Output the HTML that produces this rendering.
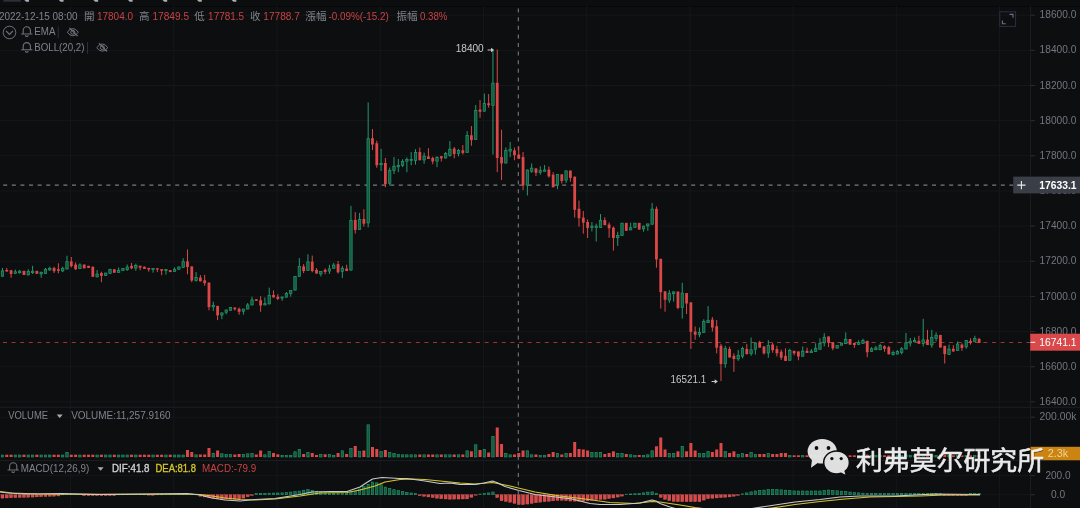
<!DOCTYPE html>
<html><head><meta charset="utf-8"><title>chart</title>
<style>html,body{margin:0;padding:0;background:#0d0e10;}body{width:1080px;height:508px;overflow:hidden;font-family:"Liberation Sans",sans-serif;}svg{display:block;filter:blur(0.6px)}</style>
</head><body>
<svg width="1080" height="508" viewBox="0 0 1080 508">
<rect width="1080" height="508" fill="#0d0e10"/>
<rect width="1080" height="6.3" fill="#0c0d0f"/>
<rect y="6.1" width="1080" height="0.9" fill="#060708"/>
<rect x="3.5" y="0" width="17.3" height="1.7" fill="#2e3036"/>
<path d="M24.3 0h4.7v1.8h-2.9z" fill="#a9adb4"/>
<path d="M58.85 0h4.7v1.8h-2.9z" fill="#a9adb4"/>
<path d="M93.4 0h4.7v1.8h-2.9z" fill="#a9adb4"/>
<path d="M127.95 0h4.7v1.8h-2.9z" fill="#a9adb4"/>
<path d="M162.5 0h4.7v1.8h-2.9z" fill="#a9adb4"/>
<path d="M197.05 0h4.7v1.8h-2.9z" fill="#a9adb4"/>
<path d="M231.6 0h4.7v1.8h-2.9z" fill="#a9adb4"/>
<path d="M70.6 6V508M173.82 6V508M277.04 6V508M380.26 6V508M483.48 6V508M586.7 6V508M689.92 6V508M793.14 6V508M896.36 6V508M999.58 6V508M0 15.2H1035M0 50.35H1035M0 85.5H1035M0 120.65H1035M0 155.8H1035M0 190.95H1035M0 226.1H1035M0 261.25H1035M0 296.4H1035M0 331.55H1035M0 366.7H1035M0 401.85H1035M0 417.2H1035M0 475.6H1035M0 494.7H1035" stroke="#16171b" stroke-width="1" fill="none"/>
<path d="M0 407.3H1080M0 460.6H1080M1030.6 6V508" stroke="#1d1e23" stroke-width="1" fill="none"/>
<g fill="#155a40" stroke="#229a6c" stroke-width="0.6"><rect x="1.26" y="455" width="2.4" height="2"/><rect x="14.17" y="455" width="2.4" height="2"/><rect x="18.47" y="455" width="2.4" height="2"/><rect x="27.08" y="455" width="2.4" height="2"/><rect x="31.38" y="455" width="2.4" height="2"/><rect x="39.98" y="455" width="2.4" height="2"/><rect x="44.29" y="455" width="2.4" height="2"/><rect x="48.59" y="455" width="2.4" height="2"/><rect x="61.49" y="455" width="2.4" height="2"/><rect x="65.8" y="452.3" width="2.4" height="4.7"/><rect x="78.7" y="455" width="2.4" height="2"/><rect x="95.91" y="455" width="2.4" height="2"/><rect x="104.52" y="455" width="2.4" height="2"/><rect x="108.82" y="455" width="2.4" height="2"/><rect x="117.43" y="455" width="2.4" height="2"/><rect x="121.73" y="455" width="2.4" height="2"/><rect x="126.03" y="455" width="2.4" height="2"/><rect x="134.64" y="455" width="2.4" height="2"/><rect x="151.85" y="455" width="2.4" height="2"/><rect x="164.76" y="455" width="2.4" height="2"/><rect x="173.36" y="455" width="2.4" height="2"/><rect x="177.66" y="455" width="2.4" height="2"/><rect x="181.97" y="455" width="2.4" height="2"/><rect x="194.87" y="454.8" width="2.4" height="2.2"/><rect x="212.08" y="453.3" width="2.4" height="3.7"/><rect x="220.69" y="453.8" width="2.4" height="3.2"/><rect x="224.99" y="454.3" width="2.4" height="2.7"/><rect x="229.29" y="454.3" width="2.4" height="2.7"/><rect x="242.2" y="454.3" width="2.4" height="2.7"/><rect x="246.5" y="453.8" width="2.4" height="3.2"/><rect x="250.81" y="453.3" width="2.4" height="3.7"/><rect x="263.71" y="454.8" width="2.4" height="2.2"/><rect x="268.01" y="451.6" width="2.4" height="5.4"/><rect x="280.92" y="455.3" width="2.4" height="1.7"/><rect x="285.23" y="455.3" width="2.4" height="1.7"/><rect x="289.53" y="455.3" width="2.4" height="1.7"/><rect x="293.83" y="451.8" width="2.4" height="5.2"/><rect x="298.13" y="449.3" width="2.4" height="7.7"/><rect x="306.74" y="452.3" width="2.4" height="4.7"/><rect x="319.64" y="454.3" width="2.4" height="2.7"/><rect x="328.25" y="454.3" width="2.4" height="2.7"/><rect x="332.55" y="455.3" width="2.4" height="1.7"/><rect x="341.16" y="450.8" width="2.4" height="6.2"/><rect x="349.76" y="448.3" width="2.4" height="8.7"/><rect x="358.37" y="451.6" width="2.4" height="5.4"/><rect x="366.97" y="424.8" width="2.4" height="32.2"/><rect x="379.88" y="451.6" width="2.4" height="5.4"/><rect x="388.49" y="452.3" width="2.4" height="4.7"/><rect x="392.79" y="453.3" width="2.4" height="3.7"/><rect x="397.09" y="454.3" width="2.4" height="2.7"/><rect x="401.39" y="454.8" width="2.4" height="2.2"/><rect x="405.69" y="454.8" width="2.4" height="2.2"/><rect x="410" y="454.8" width="2.4" height="2.2"/><rect x="414.3" y="454.8" width="2.4" height="2.2"/><rect x="422.91" y="454.8" width="2.4" height="2.2"/><rect x="435.81" y="454.8" width="2.4" height="2.2"/><rect x="444.42" y="454.8" width="2.4" height="2.2"/><rect x="448.72" y="454.8" width="2.4" height="2.2"/><rect x="457.32" y="454.8" width="2.4" height="2.2"/><rect x="465.93" y="450.8" width="2.4" height="6.2"/><rect x="474.54" y="444.8" width="2.4" height="12.2"/><rect x="483.14" y="449.3" width="2.4" height="7.7"/><rect x="491.75" y="436.3" width="2.4" height="20.7"/><rect x="504.65" y="453.3" width="2.4" height="3.7"/><rect x="508.96" y="454.8" width="2.4" height="2.2"/><rect x="526.16" y="450.8" width="2.4" height="6.2"/><rect x="530.47" y="454.8" width="2.4" height="2.2"/><rect x="539.07" y="455.3" width="2.4" height="1.7"/><rect x="543.38" y="455.3" width="2.4" height="1.7"/><rect x="556.28" y="453.3" width="2.4" height="3.7"/><rect x="564.89" y="453.3" width="2.4" height="3.7"/><rect x="590.7" y="452.3" width="2.4" height="4.7"/><rect x="595" y="452.3" width="2.4" height="4.7"/><rect x="599.31" y="452.3" width="2.4" height="4.7"/><rect x="616.52" y="453.3" width="2.4" height="3.7"/><rect x="620.82" y="453.3" width="2.4" height="3.7"/><rect x="629.43" y="454.8" width="2.4" height="2.2"/><rect x="633.73" y="455.3" width="2.4" height="1.7"/><rect x="642.33" y="455.3" width="2.4" height="1.7"/><rect x="646.63" y="454.8" width="2.4" height="2.2"/><rect x="650.94" y="450.8" width="2.4" height="6.2"/><rect x="668.15" y="453.3" width="2.4" height="3.7"/><rect x="672.45" y="453.3" width="2.4" height="3.7"/><rect x="681.06" y="446.3" width="2.4" height="10.7"/><rect x="698.26" y="453.3" width="2.4" height="3.7"/><rect x="702.57" y="453.3" width="2.4" height="3.7"/><rect x="706.87" y="451.6" width="2.4" height="5.4"/><rect x="724.08" y="451.6" width="2.4" height="5.4"/><rect x="736.99" y="454.3" width="2.4" height="2.7"/><rect x="741.29" y="453.3" width="2.4" height="3.7"/><rect x="749.89" y="452.3" width="2.4" height="4.7"/><rect x="754.2" y="454.3" width="2.4" height="2.7"/><rect x="767.11" y="453.3" width="2.4" height="3.7"/><rect x="788.62" y="455.6" width="2.4" height="1.4"/><rect x="801.52" y="455.6" width="2.4" height="1.4"/><rect x="810.13" y="455.6" width="2.4" height="1.4"/><rect x="814.43" y="455.6" width="2.4" height="1.4"/><rect x="818.74" y="455.6" width="2.4" height="1.4"/><rect x="823.04" y="455.6" width="2.4" height="1.4"/><rect x="835.95" y="455.6" width="2.4" height="1.4"/><rect x="840.25" y="455.6" width="2.4" height="1.4"/><rect x="844.55" y="454.9" width="2.4" height="2.1"/><rect x="857.46" y="455.6" width="2.4" height="1.4"/><rect x="861.76" y="455.6" width="2.4" height="1.4"/><rect x="870.37" y="455.6" width="2.4" height="1.4"/><rect x="874.67" y="455.6" width="2.4" height="1.4"/><rect x="878.97" y="455.6" width="2.4" height="1.4"/><rect x="891.88" y="455.6" width="2.4" height="1.4"/><rect x="896.18" y="455.6" width="2.4" height="1.4"/><rect x="900.48" y="455.6" width="2.4" height="1.4"/><rect x="904.79" y="454.9" width="2.4" height="2.1"/><rect x="909.09" y="455.6" width="2.4" height="1.4"/><rect x="913.39" y="455.6" width="2.4" height="1.4"/><rect x="922" y="454.9" width="2.4" height="2.1"/><rect x="930.6" y="454.9" width="2.4" height="2.1"/><rect x="934.9" y="455.6" width="2.4" height="1.4"/><rect x="947.81" y="455.6" width="2.4" height="1.4"/><rect x="956.42" y="455.6" width="2.4" height="1.4"/><rect x="965.02" y="455.6" width="2.4" height="1.4"/><rect x="973.62" y="455.6" width="2.4" height="1.4"/></g>
<g fill="#dc4848"><rect x="5.26" y="454.7" width="3" height="2.3"/><rect x="9.57" y="454.7" width="3" height="2.3"/><rect x="22.47" y="454.7" width="3" height="2.3"/><rect x="35.38" y="454.7" width="3" height="2.3"/><rect x="52.59" y="454.7" width="3" height="2.3"/><rect x="56.89" y="454.7" width="3" height="2.3"/><rect x="69.8" y="454.7" width="3" height="2.3"/><rect x="74.1" y="454.7" width="3" height="2.3"/><rect x="82.71" y="454.7" width="3" height="2.3"/><rect x="87.01" y="454.7" width="3" height="2.3"/><rect x="91.31" y="454.7" width="3" height="2.3"/><rect x="99.92" y="454.7" width="3" height="2.3"/><rect x="112.83" y="454.7" width="3" height="2.3"/><rect x="130.04" y="454.7" width="3" height="2.3"/><rect x="138.64" y="454.7" width="3" height="2.3"/><rect x="142.94" y="454.7" width="3" height="2.3"/><rect x="147.25" y="454.7" width="3" height="2.3"/><rect x="155.85" y="454.7" width="3" height="2.3"/><rect x="160.15" y="454.7" width="3" height="2.3"/><rect x="168.76" y="454.7" width="3" height="2.3"/><rect x="185.97" y="450" width="3" height="7"/><rect x="190.27" y="452" width="3" height="5"/><rect x="198.88" y="454.5" width="3" height="2.5"/><rect x="203.18" y="454.5" width="3" height="2.5"/><rect x="207.48" y="448" width="3" height="9"/><rect x="216.09" y="450.5" width="3" height="6.5"/><rect x="233.3" y="454.5" width="3" height="2.5"/><rect x="237.6" y="454" width="3" height="3"/><rect x="254.81" y="454.5" width="3" height="2.5"/><rect x="259.11" y="450.5" width="3" height="6.5"/><rect x="272.02" y="453" width="3" height="4"/><rect x="276.32" y="454.3" width="3" height="2.7"/><rect x="302.13" y="454" width="3" height="3"/><rect x="310.74" y="453" width="3" height="4"/><rect x="315.04" y="455" width="3" height="2"/><rect x="323.65" y="454.3" width="3" height="2.7"/><rect x="336.56" y="453" width="3" height="4"/><rect x="345.16" y="454" width="3" height="3"/><rect x="353.76" y="446" width="3" height="11"/><rect x="362.37" y="450.5" width="3" height="6.5"/><rect x="370.98" y="447" width="3" height="10"/><rect x="375.28" y="449" width="3" height="8"/><rect x="383.88" y="450" width="3" height="7"/><rect x="418.3" y="454.5" width="3" height="2.5"/><rect x="426.91" y="454.5" width="3" height="2.5"/><rect x="431.21" y="454.5" width="3" height="2.5"/><rect x="439.81" y="454.5" width="3" height="2.5"/><rect x="452.72" y="454.5" width="3" height="2.5"/><rect x="461.33" y="454.5" width="3" height="2.5"/><rect x="469.93" y="451.3" width="3" height="5.7"/><rect x="478.54" y="450" width="3" height="7"/><rect x="487.14" y="452.5" width="3" height="4.5"/><rect x="495.75" y="427.5" width="3" height="29.5"/><rect x="500.05" y="444" width="3" height="13"/><rect x="512.96" y="454.5" width="3" height="2.5"/><rect x="517.26" y="453" width="3" height="4"/><rect x="521.56" y="450.5" width="3" height="6.5"/><rect x="534.47" y="454.5" width="3" height="2.5"/><rect x="547.38" y="454" width="3" height="3"/><rect x="551.68" y="452" width="3" height="5"/><rect x="560.29" y="454.5" width="3" height="2.5"/><rect x="568.89" y="453" width="3" height="4"/><rect x="573.19" y="442" width="3" height="15"/><rect x="577.5" y="449" width="3" height="8"/><rect x="581.8" y="449.5" width="3" height="7.5"/><rect x="586.1" y="450.5" width="3" height="6.5"/><rect x="603.31" y="454" width="3" height="3"/><rect x="607.61" y="453" width="3" height="4"/><rect x="611.92" y="451.3" width="3" height="5.7"/><rect x="624.82" y="454" width="3" height="3"/><rect x="637.73" y="455" width="3" height="2"/><rect x="654.94" y="446.3" width="3" height="10.7"/><rect x="659.24" y="437.5" width="3" height="19.5"/><rect x="663.55" y="449.5" width="3" height="7.5"/><rect x="676.45" y="451.3" width="3" height="5.7"/><rect x="685.06" y="451.3" width="3" height="5.7"/><rect x="689.36" y="443" width="3" height="14"/><rect x="693.66" y="450.5" width="3" height="6.5"/><rect x="710.87" y="452" width="3" height="5"/><rect x="715.18" y="449.5" width="3" height="7.5"/><rect x="719.48" y="443" width="3" height="14"/><rect x="728.08" y="453" width="3" height="4"/><rect x="732.39" y="451.3" width="3" height="5.7"/><rect x="745.29" y="454" width="3" height="3"/><rect x="758.2" y="454" width="3" height="3"/><rect x="762.5" y="454" width="3" height="3"/><rect x="771.11" y="454" width="3" height="3"/><rect x="775.41" y="454" width="3" height="3"/><rect x="779.71" y="453" width="3" height="4"/><rect x="784.02" y="453" width="3" height="4"/><rect x="792.62" y="455.3" width="3" height="1.7"/><rect x="796.92" y="455.3" width="3" height="1.7"/><rect x="805.53" y="455.3" width="3" height="1.7"/><rect x="827.04" y="455.3" width="3" height="1.7"/><rect x="831.34" y="455.3" width="3" height="1.7"/><rect x="848.55" y="455.3" width="3" height="1.7"/><rect x="852.86" y="455.3" width="3" height="1.7"/><rect x="865.76" y="454.6" width="3" height="2.4"/><rect x="882.97" y="455.3" width="3" height="1.7"/><rect x="887.28" y="455.3" width="3" height="1.7"/><rect x="917.39" y="455.3" width="3" height="1.7"/><rect x="926" y="454.6" width="3" height="2.4"/><rect x="938.91" y="454.6" width="3" height="2.4"/><rect x="943.21" y="454.6" width="3" height="2.4"/><rect x="951.81" y="455.3" width="3" height="1.7"/><rect x="960.42" y="455.3" width="3" height="1.7"/><rect x="969.02" y="455.3" width="3" height="1.7"/><rect x="977.63" y="455.3" width="3" height="1.7"/></g>
<g fill="#155a40" stroke="#229a6c" stroke-width="0.6"><rect x="61.49" y="494.4" width="2.4" height="0.4"/><rect x="65.8" y="494.2" width="2.4" height="0.5"/><rect x="70.1" y="494.2" width="2.4" height="0.5"/><rect x="74.4" y="494.2" width="2.4" height="0.5"/><rect x="78.7" y="494.2" width="2.4" height="0.5"/><rect x="117.43" y="494.4" width="2.4" height="0.4"/><rect x="121.73" y="494.37" width="2.4" height="0.4"/><rect x="126.03" y="494.33" width="2.4" height="0.4"/><rect x="130.34" y="494.28" width="2.4" height="0.42"/><rect x="134.64" y="494.24" width="2.4" height="0.46"/><rect x="138.94" y="494.22" width="2.4" height="0.48"/><rect x="143.24" y="494.4" width="2.4" height="0.4"/><rect x="156.15" y="494.4" width="2.4" height="0.4"/><rect x="160.45" y="494.36" width="2.4" height="0.4"/><rect x="164.76" y="494.27" width="2.4" height="0.43"/><rect x="169.06" y="494.17" width="2.4" height="0.53"/><rect x="173.36" y="494.08" width="2.4" height="0.62"/><rect x="177.66" y="493.98" width="2.4" height="0.72"/><rect x="181.97" y="493.89" width="2.4" height="0.81"/><rect x="186.27" y="493.85" width="2.4" height="0.85"/><rect x="190.57" y="494.28" width="2.4" height="0.42"/><rect x="194.87" y="494.4" width="2.4" height="0.4"/><rect x="255.11" y="493.49" width="2.4" height="1.21"/><rect x="259.41" y="493.39" width="2.4" height="1.31"/><rect x="263.71" y="493.28" width="2.4" height="1.42"/><rect x="268.01" y="493.18" width="2.4" height="1.52"/><rect x="272.32" y="493.08" width="2.4" height="1.62"/><rect x="276.62" y="492.97" width="2.4" height="1.73"/><rect x="280.92" y="492.87" width="2.4" height="1.83"/><rect x="285.23" y="492.63" width="2.4" height="2.07"/><rect x="289.53" y="492.11" width="2.4" height="2.59"/><rect x="293.83" y="491.6" width="2.4" height="3.1"/><rect x="298.13" y="491.08" width="2.4" height="3.62"/><rect x="302.44" y="490.22" width="2.4" height="4.48"/><rect x="306.74" y="489.67" width="2.4" height="5.03"/><rect x="311.04" y="490.45" width="2.4" height="4.25"/><rect x="315.34" y="491.24" width="2.4" height="3.46"/><rect x="319.64" y="492.03" width="2.4" height="2.67"/><rect x="323.95" y="492.84" width="2.4" height="1.86"/><rect x="328.25" y="493.03" width="2.4" height="1.67"/><rect x="332.55" y="493.07" width="2.4" height="1.63"/><rect x="336.86" y="493.11" width="2.4" height="1.59"/><rect x="341.16" y="493.15" width="2.4" height="1.55"/><rect x="345.46" y="493.19" width="2.4" height="1.51"/><rect x="349.76" y="492.39" width="2.4" height="2.31"/><rect x="354.06" y="491.2" width="2.4" height="3.5"/><rect x="358.37" y="489.02" width="2.4" height="5.68"/><rect x="362.67" y="486.63" width="2.4" height="8.07"/><rect x="366.97" y="484.31" width="2.4" height="10.39"/><rect x="371.28" y="482.01" width="2.4" height="12.69"/><rect x="375.58" y="482.78" width="2.4" height="11.92"/><rect x="379.88" y="484.76" width="2.4" height="9.94"/><rect x="384.18" y="487.11" width="2.4" height="7.59"/><rect x="388.49" y="488.41" width="2.4" height="6.29"/><rect x="392.79" y="489.7" width="2.4" height="5"/><rect x="397.09" y="490.69" width="2.4" height="4.01"/><rect x="401.39" y="491.58" width="2.4" height="3.12"/><rect x="405.69" y="492.48" width="2.4" height="2.22"/><rect x="410" y="492.97" width="2.4" height="1.73"/><rect x="414.3" y="493.44" width="2.4" height="1.26"/><rect x="478.84" y="494.02" width="2.4" height="0.68"/><rect x="483.14" y="493.65" width="2.4" height="1.05"/><rect x="487.44" y="492.93" width="2.4" height="1.77"/><rect x="491.75" y="492.01" width="2.4" height="2.69"/><rect x="625.12" y="494.18" width="2.4" height="0.52"/><rect x="629.43" y="493.97" width="2.4" height="0.73"/><rect x="633.73" y="493.75" width="2.4" height="0.95"/><rect x="638.03" y="493.54" width="2.4" height="1.16"/><rect x="642.33" y="492.86" width="2.4" height="1.84"/><rect x="646.63" y="492.08" width="2.4" height="2.62"/><rect x="650.94" y="491.88" width="2.4" height="2.82"/><rect x="655.24" y="493.31" width="2.4" height="1.39"/><rect x="741.29" y="493.86" width="2.4" height="0.84"/><rect x="745.59" y="492.88" width="2.4" height="1.82"/><rect x="749.89" y="491.89" width="2.4" height="2.81"/><rect x="754.2" y="490.96" width="2.4" height="3.74"/><rect x="758.5" y="490.53" width="2.4" height="4.17"/><rect x="762.8" y="490.1" width="2.4" height="4.6"/><rect x="767.11" y="489.67" width="2.4" height="5.03"/><rect x="771.41" y="489.5" width="2.4" height="5.2"/><rect x="775.71" y="489.5" width="2.4" height="5.2"/><rect x="780.01" y="489.85" width="2.4" height="4.85"/><rect x="784.32" y="490.21" width="2.4" height="4.49"/><rect x="788.62" y="490.57" width="2.4" height="4.13"/><rect x="792.92" y="490.93" width="2.4" height="3.77"/><rect x="797.22" y="491" width="2.4" height="3.7"/><rect x="801.52" y="491" width="2.4" height="3.7"/><rect x="805.83" y="491" width="2.4" height="3.7"/><rect x="810.13" y="491" width="2.4" height="3.7"/><rect x="814.43" y="491" width="2.4" height="3.7"/><rect x="818.74" y="491" width="2.4" height="3.7"/><rect x="823.04" y="490.47" width="2.4" height="4.23"/><rect x="827.34" y="490.05" width="2.4" height="4.65"/><rect x="831.64" y="490.43" width="2.4" height="4.27"/><rect x="835.95" y="490.81" width="2.4" height="3.89"/><rect x="840.25" y="491.19" width="2.4" height="3.51"/><rect x="844.55" y="491.57" width="2.4" height="3.12"/><rect x="848.85" y="492.01" width="2.4" height="2.69"/><rect x="853.16" y="492.44" width="2.4" height="2.26"/><rect x="857.46" y="492.87" width="2.4" height="1.83"/><rect x="861.76" y="493.15" width="2.4" height="1.55"/><rect x="866.06" y="493.36" width="2.4" height="1.34"/><rect x="870.37" y="493.5" width="2.4" height="1.2"/><rect x="874.67" y="493.5" width="2.4" height="1.2"/><rect x="878.97" y="493.5" width="2.4" height="1.2"/><rect x="883.27" y="493.5" width="2.4" height="1.2"/><rect x="887.58" y="493.5" width="2.4" height="1.2"/><rect x="891.88" y="493.5" width="2.4" height="1.2"/><rect x="896.18" y="493.5" width="2.4" height="1.2"/><rect x="900.48" y="493.5" width="2.4" height="1.2"/><rect x="904.79" y="493.5" width="2.4" height="1.2"/><rect x="909.09" y="493.5" width="2.4" height="1.2"/><rect x="913.39" y="493.5" width="2.4" height="1.2"/><rect x="917.69" y="493.5" width="2.4" height="1.2"/><rect x="922" y="493.5" width="2.4" height="1.2"/><rect x="926.3" y="493.5" width="2.4" height="1.2"/><rect x="930.6" y="493.5" width="2.4" height="1.2"/><rect x="934.9" y="493.5" width="2.4" height="1.2"/><rect x="939.21" y="493.73" width="2.4" height="0.97"/><rect x="969.32" y="493.67" width="2.4" height="1.03"/><rect x="973.62" y="493.59" width="2.4" height="1.11"/><rect x="977.93" y="493.52" width="2.4" height="1.18"/></g>
<g fill="#dc4848" stroke="#f07070" stroke-width="0.3"><rect x="0.96" y="494.7" width="3" height="3.42"/><rect x="5.26" y="494.7" width="3" height="3.27"/><rect x="9.57" y="494.7" width="3" height="3.13"/><rect x="13.87" y="494.7" width="3" height="2.99"/><rect x="18.17" y="494.7" width="3" height="2.84"/><rect x="22.47" y="494.7" width="3" height="2.7"/><rect x="26.78" y="494.7" width="3" height="2.56"/><rect x="31.08" y="494.7" width="3" height="2.39"/><rect x="35.38" y="494.7" width="3" height="2.2"/><rect x="39.68" y="494.7" width="3" height="2.02"/><rect x="43.99" y="494.7" width="3" height="1.83"/><rect x="48.29" y="494.7" width="3" height="1.64"/><rect x="52.59" y="494.7" width="3" height="1.46"/><rect x="56.89" y="494.7" width="3" height="1.27"/><rect x="82.71" y="494.7" width="3" height="1"/><rect x="87.01" y="494.7" width="3" height="1"/><rect x="91.31" y="494.7" width="3" height="1"/><rect x="95.61" y="494.7" width="3" height="1"/><rect x="99.92" y="494.7" width="3" height="1"/><rect x="104.22" y="494.7" width="3" height="1"/><rect x="108.52" y="494.7" width="3" height="1"/><rect x="112.83" y="494.7" width="3" height="1"/><rect x="147.25" y="494.7" width="3" height="0.42"/><rect x="151.55" y="494.7" width="3" height="0.6"/><rect x="198.88" y="494.7" width="3" height="1.56"/><rect x="203.18" y="494.7" width="3" height="2.28"/><rect x="207.48" y="494.7" width="3" height="3"/><rect x="211.78" y="494.7" width="3" height="3.63"/><rect x="216.09" y="494.7" width="3" height="4.06"/><rect x="220.39" y="494.7" width="3" height="4.49"/><rect x="224.69" y="494.7" width="3" height="4.5"/><rect x="228.99" y="494.7" width="3" height="4.5"/><rect x="233.3" y="494.7" width="3" height="4.5"/><rect x="237.6" y="494.7" width="3" height="4.5"/><rect x="241.9" y="494.7" width="3" height="3.44"/><rect x="246.2" y="494.7" width="3" height="2.09"/><rect x="250.51" y="494.7" width="3" height="0.8"/><rect x="418.3" y="494.7" width="3" height="0.99"/><rect x="422.61" y="494.7" width="3" height="1.63"/><rect x="426.91" y="494.7" width="3" height="2.26"/><rect x="431.21" y="494.7" width="3" height="2.91"/><rect x="435.51" y="494.7" width="3" height="3.55"/><rect x="439.81" y="494.7" width="3" height="4.07"/><rect x="444.12" y="494.7" width="3" height="4.28"/><rect x="448.42" y="494.7" width="3" height="4.5"/><rect x="452.72" y="494.7" width="3" height="4.43"/><rect x="457.02" y="494.7" width="3" height="4.36"/><rect x="461.33" y="494.7" width="3" height="4.29"/><rect x="465.63" y="494.7" width="3" height="4.21"/><rect x="469.93" y="494.7" width="3" height="2.63"/><rect x="474.24" y="494.7" width="3" height="0.56"/><rect x="495.75" y="494.7" width="3" height="2.93"/><rect x="500.05" y="494.7" width="3" height="6.09"/><rect x="504.35" y="494.7" width="3" height="6.81"/><rect x="508.66" y="494.7" width="3" height="7.54"/><rect x="512.96" y="494.7" width="3" height="8.74"/><rect x="517.26" y="494.7" width="3" height="9.93"/><rect x="521.56" y="494.7" width="3" height="9.99"/><rect x="525.87" y="494.7" width="3" height="9.38"/><rect x="530.17" y="494.7" width="3" height="8.75"/><rect x="534.47" y="494.7" width="3" height="8.1"/><rect x="538.77" y="494.7" width="3" height="7.47"/><rect x="543.08" y="494.7" width="3" height="7.04"/><rect x="547.38" y="494.7" width="3" height="6.61"/><rect x="551.68" y="494.7" width="3" height="6.18"/><rect x="555.98" y="494.7" width="3" height="5.75"/><rect x="560.29" y="494.7" width="3" height="5.65"/><rect x="564.59" y="494.7" width="3" height="6.01"/><rect x="568.89" y="494.7" width="3" height="6.37"/><rect x="573.19" y="494.7" width="3" height="6.5"/><rect x="577.5" y="494.7" width="3" height="6.5"/><rect x="581.8" y="494.7" width="3" height="6.5"/><rect x="586.1" y="494.7" width="3" height="6.11"/><rect x="590.4" y="494.7" width="3" height="5.46"/><rect x="594.71" y="494.7" width="3" height="4.94"/><rect x="599.01" y="494.7" width="3" height="4.72"/><rect x="603.31" y="494.7" width="3" height="4.51"/><rect x="607.61" y="494.7" width="3" height="3.88"/><rect x="611.92" y="494.7" width="3" height="3.24"/><rect x="616.22" y="494.7" width="3" height="2.39"/><rect x="620.52" y="494.7" width="3" height="1.42"/><rect x="659.24" y="494.7" width="3" height="2.76"/><rect x="663.55" y="494.7" width="3" height="4.64"/><rect x="667.85" y="494.7" width="3" height="5.94"/><rect x="672.15" y="494.7" width="3" height="6.75"/><rect x="676.45" y="494.7" width="3" height="7"/><rect x="680.76" y="494.7" width="3" height="7"/><rect x="685.06" y="494.7" width="3" height="7"/><rect x="689.36" y="494.7" width="3" height="7"/><rect x="693.66" y="494.7" width="3" height="7"/><rect x="697.97" y="494.7" width="3" height="7"/><rect x="702.27" y="494.7" width="3" height="5.39"/><rect x="706.57" y="494.7" width="3" height="3.92"/><rect x="710.87" y="494.7" width="3" height="3.59"/><rect x="715.18" y="494.7" width="3" height="3.26"/><rect x="719.48" y="494.7" width="3" height="2.92"/><rect x="723.78" y="494.7" width="3" height="2.58"/><rect x="728.08" y="494.7" width="3" height="2.23"/><rect x="732.39" y="494.7" width="3" height="1.51"/><rect x="736.69" y="494.7" width="3" height="0.74"/><rect x="943.21" y="494.7" width="3" height="0.8"/><rect x="947.51" y="494.7" width="3" height="0.8"/><rect x="951.81" y="494.7" width="3" height="0.8"/><rect x="956.12" y="494.7" width="3" height="0.8"/><rect x="960.42" y="494.7" width="3" height="0.8"/><rect x="964.72" y="494.7" width="3" height="0.8"/></g>
<path d="M0 491.5 L12 493 L37 494 L100 494.3 L187 494 L200 494.5 L212 496 L225 498 L240 499.5 L255 500 L275 499 L300 496 L320 493 L347 492.5 L360 490 L375 486 L385 482 L400 479.5 L412 479 L425 479.5 L440 481 L450 482 L460 483 L475 484 L492.5 482.5 L510 486 L535 492 L560 496 L585 499 L610 502.5 L635 503.5 L652 501.5 L660 502 L680 505 L695 507.5 L720 511 L750 511 L772 508 L795 504.5 L820 501.5 L845 499 L870 497 L895 496.5 L920 496 L945 495 L980 495" stroke="#d6c62a" stroke-width="1.2" fill="none" stroke-linejoin="round"/>
<path d="M0 492 L8 493 L25 494 L62 493.5 L100 494.5 L150 494 L187 493.5 L200 495 L212 498 L225 500 L240 501 L255 499.5 L275 498.5 L300 494.5 L312 492 L330 491.5 L347 491.5 L360 487 L366 483 L372.5 479 L382 477.5 L400 478.5 L407 478.5 L425 481 L440 483.5 L450 483 L460 484.3 L475 484.5 L484 483 L492.5 481 L498 483 L505 486.5 L519 490.5 L535 494.5 L560 497.5 L572 499 L590 503.5 L600 504.5 L620 504.5 L640 503 L652 500 L656 501 L660 503.5 L670 507 L680 510 L700 514 L730 513 L755 508 L775 505 L795 502 L820 499.5 L840 497 L860 496 L895 496 L915 495 L935 494 L980 494.5" stroke="#c8cad0" stroke-width="1.2" fill="none" stroke-linejoin="round"/>
<path d="M3 342.5H1035" stroke="#9a3535" stroke-width="1.1" stroke-dasharray="4 4.6" fill="none"/>
<path d="M3.2 185.1H1014" stroke="#777a82" stroke-width="1.1" stroke-dasharray="4 4.6" fill="none"/>
<path d="M518.3 8.6V508" stroke="#777a82" stroke-width="1.1" stroke-dasharray="4 4.6" fill="none"/>
<path d="M2.46 267.96V276.52M15.37 269.6V274.01M19.67 269.97V273.75M28.28 269.22V275.26M32.58 265.82V274.01M41.18 271.49V277.78M45.49 267.96V273.75M49.79 266.7V270.86M62.7 266.7V272.12M67 255.74V269.6M79.91 263.3V268.97M97.11 269.97V277.53M105.72 272.75V275.89M110.02 268.72V273.75M118.63 267.46V272.75M122.93 268.34V270.86M127.23 264.56V270.86M135.84 263.64V270.82M153.05 268.3V272.71M165.96 269.18V274.6M174.56 267.42V271.7M178.86 266.66V269.56M183.17 258.22V267.67M196.07 272.08V281.52M213.28 301.74V310.93M221.89 312.57V319.12M226.19 309.67V314.33M230.49 307.15V310.55M243.4 308.79V314.71M247.7 303V309.29M252.01 296.7V305.26M264.91 297.46V305.26M269.21 287.63V304.26M282.12 296.7V300.86M286.43 292.04V297.46M290.73 290.15V296.7M295.03 276.05V290.4M299.33 258.07V276.71M307.94 254.29V270.67M320.84 271.05V276.46M329.45 264.75V273.94M333.75 262.86V268.53M342.36 266.01V277.97M350.96 205.9V270.4M359.57 212.9V229.9M368.17 102.4V227.4M381.08 148.89V170.93M389.69 167.53V185.42M393.99 157.08V174.08M398.29 158.97V172.19M402.59 159.22V167.15M406.89 157.46V172.19M411.2 152.04V165.26M415.5 149.14V164.63M424.11 152.67V163.75M437.01 156.2V167.15M445.62 152.04V158.34M449.92 141.08V156.7M458.52 148.89V156.45M467.13 131.26V152.67M475.74 104.94V139.82M484.34 93.6V111.49M492.94 50.2V154.6M505.85 147.38V163.38M510.16 141.96V157.08M527.37 169.67V195.49M531.67 163.38V172.82M540.27 166.27V174.71M544.58 165.01V171.56M557.48 174.33V189.19M566.09 170.55V182.9M591.9 222V231.45M596.21 223.64V241.52M600.51 214.07V227.92M617.72 231.7V245.93M622.02 222.88V235.86M630.63 222.63V230.19M634.93 222.88V227.67M643.53 225.78V231.7M647.84 223.64V230.82M652.14 202.98V224.52M669.35 290.05V302.9M673.65 291.56V301.64M682.26 282.75V318.64M699.47 327.53V337.23M703.77 319.22V332.82M708.07 306.12V323M725.28 345.78V367.82M738.19 349.94V360.89M742.49 346.66V358.38M751.1 337.59V355.86M755.4 342.63V354.6M768.31 340.11V357.75M789.82 348.68V360.52M802.73 346.41V356.49M811.33 348.93V352.96M815.63 343.26V351.7M819.94 338.22V349.56M824.24 333.19V346.41M837.15 345.01V348.41M841.45 342.75V345.52M845.75 332.42V344.01M858.66 340.23V344.63M862.96 338.72V343.75M871.57 347.15V351.81M875.87 345.89V350.05M880.17 343.75V350.05M893.08 350.55V355.59M897.38 350.05V354.33M901.68 347.15V354.33M905.99 332.92V349.29M910.29 337.96V346.52M914.59 337.46V342.12M923.2 318.82V346.52M931.8 329.9V347.78M936.1 332.42V341.49M949.01 344.6V354.67M957.62 341.45V350.89M966.22 340.19V348.75M974.83 335.78V341.7" stroke="#229a6c" stroke-width="1" fill="none"/>
<path d="M6.76 267.96V271.74M11.07 269.97V277.78M23.97 270.86V275.01M36.88 270.86V273.75M54.09 266.7V273M58.39 263.3V273.38M71.3 257V267.46M75.6 262.42V269.97M84.21 264.56V268.34M88.51 265.82V267.96M92.81 266.7V276.78M101.42 271.74V282.19M114.33 269.22V272.75M131.54 262.92V269.22M140.14 265.78V270.19M144.44 266.66V268.93M148.75 267.92V271.7M157.35 268.3V272.08M161.65 269.18V275.23M170.26 270.19V272.08M187.47 249.41V274.22M191.77 266.41V282.15M200.38 275.04V281.34M204.68 274.79V285.74M208.98 282.59V310.3M217.59 305.89V320.13M234.8 307.53V310.55M239.1 307.53V314.71M256.31 299.22V300.86M260.61 296.2V311.81M273.52 290.4V297.46M277.82 294.18V299.97M303.63 264.12V273.19M312.24 255.55V272.3M316.54 268.15V273.56M325.15 268.53V274.19M338.06 260.97V273.56M346.66 264.75V271.05M355.26 212.2V233.6M363.87 209.3V226.6M372.48 129.12V150.15M376.78 140.71V167.78M385.38 157.96V187.3M419.8 147.63V160.23M428.41 148.26V158.97M432.71 156.7V164.26M441.31 156.2V161.49M454.22 147V158.34M462.83 145.11V154.56M471.43 125.97V145.74M480.04 100.15V117.78M488.64 94.11V107.71M497.25 49.5V172.2M501.55 129.75V180.13M514.46 147.63V160.23M518.76 146.37V158.72M523.06 152.04V190.2M535.97 168.41V175.97M548.88 166.52V177.61M553.18 172.19V187.3M561.79 174.33V183.53M570.39 170.55V181.64M574.69 176.66V217.59M579 200.59V226.66M583.3 211.05V233.72M587.6 219.48V238M604.81 217.34V225.15M609.11 222.38V237.75M613.42 226.41V250.59M626.32 222.88V230.82M639.23 222.88V229.56M656.44 206.51V267.72M660.74 258.82V308.56M665.05 291.31V311.71M677.95 291.56V309.19M686.56 293.07V313.98M690.86 302.34V348.94M695.16 326.52V339.75M712.37 317.08V331.56M716.68 319.96V353.34M720.98 343.89V381.05M729.58 346.66V357.49M733.89 353.34V371.85M746.79 344.14V354.22M759.7 340.74V347.67M764 346.41V354.6M772.61 342.63V352.71M776.91 345.78V356.49M781.21 349.56V360.01M785.52 348.3V360.89M794.12 350.82V355.23M798.42 351.45V360.26M807.03 347.67V352.96M828.54 336.45V347.15M832.84 342.12V350.3M850.05 338.97V344.63M854.36 343V347.78M867.26 340.86V357.23M884.47 345.26V351.81M888.78 345.89V354.33M918.89 335.82V343.75M927.5 329.9V345.01M940.41 334.94V347.53M944.71 345.86V363.49M953.31 345.23V351.52M961.92 343.34V350.89M970.52 338.3V344.6M979.13 337.92V342.96" stroke="#dc4848" stroke-width="1" fill="none"/>
<g fill="#155a40" stroke="#229a6c" stroke-width="0.7"><rect x="1.26" y="270.9" width="2.4" height="5.32"/><rect x="14.17" y="271.79" width="2.4" height="1.67"/><rect x="18.47" y="271.16" width="2.4" height="1.54"/><rect x="27.08" y="271.53" width="2.4" height="3.43"/><rect x="31.38" y="271.16" width="2.4" height="1.54"/><rect x="39.98" y="272.42" width="2.4" height="1.54"/><rect x="44.29" y="269.27" width="2.4" height="4.19"/><rect x="48.59" y="268.26" width="2.4" height="1.67"/><rect x="61.49" y="268.26" width="2.4" height="2.67"/><rect x="65.8" y="261.71" width="2.4" height="7.21"/><rect x="78.7" y="264.86" width="2.4" height="3.81"/><rect x="95.91" y="274.05" width="2.4" height="2.8"/><rect x="104.52" y="273.05" width="2.4" height="2.55"/><rect x="108.82" y="269.52" width="2.4" height="3.93"/><rect x="117.43" y="270.27" width="2.4" height="2.17"/><rect x="121.73" y="268.64" width="2.4" height="1.92"/><rect x="126.03" y="267" width="2.4" height="2.67"/><rect x="134.64" y="265.45" width="2.4" height="2.55"/><rect x="151.85" y="268.6" width="2.4" height="1.04"/><rect x="164.76" y="269.48" width="2.4" height="1.04"/><rect x="173.36" y="269.23" width="2.4" height="2.17"/><rect x="177.66" y="266.96" width="2.4" height="2.3"/><rect x="181.97" y="261.67" width="2.4" height="5.7"/><rect x="194.87" y="277.42" width="2.4" height="3.18"/><rect x="212.08" y="305.31" width="2.4" height="1.54"/><rect x="220.69" y="312.87" width="2.4" height="2.17"/><rect x="224.99" y="309.97" width="2.4" height="2.3"/><rect x="229.29" y="307.45" width="2.4" height="2.8"/><rect x="242.2" y="309.09" width="2.4" height="2.17"/><rect x="246.5" y="304.93" width="2.4" height="4.06"/><rect x="250.81" y="299.9" width="2.4" height="5.07"/><rect x="263.71" y="303.68" width="2.4" height="1.29"/><rect x="268.01" y="295.49" width="2.4" height="8.47"/><rect x="280.92" y="297" width="2.4" height="1.04"/><rect x="285.23" y="293.6" width="2.4" height="3.56"/><rect x="289.53" y="290.45" width="2.4" height="3.18"/><rect x="293.83" y="276.35" width="2.4" height="13.76"/><rect x="298.13" y="266.31" width="2.4" height="10.11"/><rect x="306.74" y="261.9" width="2.4" height="8.47"/><rect x="319.64" y="271.35" width="2.4" height="2.55"/><rect x="328.25" y="268.83" width="2.4" height="2.3"/><rect x="332.55" y="265.05" width="2.4" height="3.18"/><rect x="341.16" y="268.2" width="2.4" height="3.18"/><rect x="349.76" y="220.3" width="2.4" height="49.8"/><rect x="358.37" y="219.3" width="2.4" height="10.3"/><rect x="366.97" y="138.7" width="2.4" height="84.2"/><rect x="379.88" y="163.3" width="2.4" height="1.42"/><rect x="388.49" y="170.6" width="2.4" height="12.62"/><rect x="392.79" y="166.19" width="2.4" height="4.44"/><rect x="397.09" y="165.31" width="2.4" height="1.54"/><rect x="401.39" y="161.53" width="2.4" height="4.06"/><rect x="405.69" y="159.52" width="2.4" height="1.67"/><rect x="410" y="159.52" width="2.4" height="1.04"/><rect x="414.3" y="152.34" width="2.4" height="8.22"/><rect x="422.91" y="156.12" width="2.4" height="3.81"/><rect x="435.81" y="157.38" width="2.4" height="3.81"/><rect x="444.42" y="153.6" width="2.4" height="4.44"/><rect x="448.72" y="149.19" width="2.4" height="6.33"/><rect x="457.32" y="150.45" width="2.4" height="3.18"/><rect x="465.93" y="135.59" width="2.4" height="16.78"/><rect x="474.54" y="110.53" width="2.4" height="29"/><rect x="483.14" y="103.6" width="2.4" height="7.59"/><rect x="491.75" y="83.1" width="2.4" height="22.4"/><rect x="504.65" y="150.45" width="2.4" height="12.62"/><rect x="508.96" y="149.19" width="2.4" height="1.92"/><rect x="526.16" y="169.97" width="2.4" height="15.14"/><rect x="530.47" y="168.08" width="2.4" height="3.18"/><rect x="539.07" y="170.6" width="2.4" height="1.92"/><rect x="543.38" y="169.97" width="2.4" height="1.29"/><rect x="556.28" y="174.63" width="2.4" height="10.48"/><rect x="564.89" y="170.85" width="2.4" height="9.22"/><rect x="590.7" y="226.08" width="2.4" height="1.54"/><rect x="595" y="226.08" width="2.4" height="1.54"/><rect x="599.31" y="220.41" width="2.4" height="7.21"/><rect x="616.52" y="235.53" width="2.4" height="2.17"/><rect x="620.82" y="223.18" width="2.4" height="12.37"/><rect x="629.43" y="227.72" width="2.4" height="2.17"/><rect x="633.73" y="223.18" width="2.4" height="4.19"/><rect x="642.33" y="226.08" width="2.4" height="2.8"/><rect x="646.63" y="223.94" width="2.4" height="1.92"/><rect x="650.94" y="209.08" width="2.4" height="15.14"/><rect x="668.15" y="293.12" width="2.4" height="6.96"/><rect x="672.45" y="291.86" width="2.4" height="1.92"/><rect x="681.06" y="293.12" width="2.4" height="14.51"/><rect x="698.26" y="332.49" width="2.4" height="1.92"/><rect x="702.57" y="321.53" width="2.4" height="10.99"/><rect x="706.87" y="320.27" width="2.4" height="2.42"/><rect x="724.08" y="348.6" width="2.4" height="15.14"/><rect x="736.99" y="355.27" width="2.4" height="3.68"/><rect x="741.29" y="348.6" width="2.4" height="7.59"/><rect x="749.89" y="349.86" width="2.4" height="3.81"/><rect x="754.2" y="342.93" width="2.4" height="6.33"/><rect x="767.11" y="345.45" width="2.4" height="7.59"/><rect x="788.62" y="350.49" width="2.4" height="9.73"/><rect x="801.52" y="351.12" width="2.4" height="5.07"/><rect x="810.13" y="351.12" width="2.4" height="1.54"/><rect x="814.43" y="348.22" width="2.4" height="3.18"/><rect x="818.74" y="343.56" width="2.4" height="5.7"/><rect x="823.04" y="337.26" width="2.4" height="5.7"/><rect x="835.95" y="345.31" width="2.4" height="2.8"/><rect x="840.25" y="343.05" width="2.4" height="2.17"/><rect x="844.55" y="339.27" width="2.4" height="4.44"/><rect x="857.46" y="342.42" width="2.4" height="1.92"/><rect x="861.76" y="340.53" width="2.4" height="2.93"/><rect x="870.37" y="348.71" width="2.4" height="2.8"/><rect x="874.67" y="347.83" width="2.4" height="1.92"/><rect x="878.97" y="345.56" width="2.4" height="4.19"/><rect x="891.88" y="352.49" width="2.4" height="1.92"/><rect x="896.18" y="351.61" width="2.4" height="2.42"/><rect x="900.48" y="348.71" width="2.4" height="3.81"/><rect x="904.79" y="342.79" width="2.4" height="6.2"/><rect x="909.09" y="341.16" width="2.4" height="1.92"/><rect x="913.39" y="340.53" width="2.4" height="1.29"/><rect x="922" y="339.9" width="2.4" height="3.56"/><rect x="930.6" y="337.38" width="2.4" height="7.59"/><rect x="934.9" y="335.24" width="2.4" height="3.18"/><rect x="947.81" y="349.05" width="2.4" height="5.32"/><rect x="956.42" y="344.02" width="2.4" height="6.58"/><rect x="965.02" y="340.49" width="2.4" height="6.33"/><rect x="973.62" y="338.6" width="2.4" height="2.8"/></g>
<g fill="#dc4848"><rect x="5.36" y="269.97" width="2.8" height="1.51"/><rect x="9.67" y="270.23" width="2.8" height="3.78"/><rect x="22.57" y="270.86" width="2.8" height="4.16"/><rect x="35.48" y="270.86" width="2.8" height="2.9"/><rect x="52.69" y="267.96" width="2.8" height="3.27"/><rect x="56.99" y="269.22" width="2.8" height="1.64"/><rect x="69.9" y="261.41" width="2.8" height="4.79"/><rect x="74.2" y="264.56" width="2.8" height="4.66"/><rect x="82.81" y="264.56" width="2.8" height="3.78"/><rect x="87.11" y="265.82" width="2.8" height="2.14"/><rect x="91.41" y="266.7" width="2.8" height="10.08"/><rect x="100.02" y="273" width="2.8" height="2.9"/><rect x="112.92" y="269.22" width="2.8" height="3.53"/><rect x="130.14" y="265.82" width="2.8" height="2.52"/><rect x="138.74" y="265.78" width="2.8" height="1.89"/><rect x="143.04" y="266.66" width="2.8" height="2.27"/><rect x="147.34" y="267.92" width="2.8" height="1.64"/><rect x="155.95" y="268.3" width="2.8" height="1.26"/><rect x="160.25" y="269.18" width="2.8" height="1.64"/><rect x="168.86" y="270.19" width="2.8" height="1.89"/><rect x="186.07" y="261.37" width="2.8" height="5.67"/><rect x="190.37" y="266.41" width="2.8" height="14.11"/><rect x="198.98" y="277.56" width="2.8" height="3.78"/><rect x="203.28" y="280.33" width="2.8" height="2.9"/><rect x="207.58" y="282.59" width="2.8" height="24.56"/><rect x="216.19" y="305.89" width="2.8" height="9.45"/><rect x="233.4" y="307.53" width="2.8" height="1.76"/><rect x="237.7" y="308.79" width="2.8" height="3.02"/><rect x="254.91" y="299.22" width="2.8" height="1.64"/><rect x="259.21" y="300.23" width="2.8" height="5.29"/><rect x="272.12" y="294.94" width="2.8" height="2.52"/><rect x="276.42" y="296.7" width="2.8" height="2.27"/><rect x="302.24" y="266.39" width="2.8" height="4.66"/><rect x="310.84" y="261.6" width="2.8" height="9.45"/><rect x="315.14" y="269.79" width="2.8" height="3.78"/><rect x="323.75" y="269.79" width="2.8" height="2.14"/><rect x="336.66" y="264.12" width="2.8" height="8.19"/><rect x="345.26" y="268.53" width="2.8" height="2.52"/><rect x="353.87" y="220" width="2.8" height="9.9"/><rect x="362.47" y="219" width="2.8" height="4.7"/><rect x="371.08" y="138.19" width="2.8" height="6.3"/><rect x="375.38" y="143.22" width="2.8" height="22.04"/><rect x="383.98" y="163" width="2.8" height="21.16"/><rect x="418.4" y="152.04" width="2.8" height="8.19"/><rect x="427.01" y="156.45" width="2.8" height="2.52"/><rect x="431.31" y="157.96" width="2.8" height="3.53"/><rect x="439.92" y="156.2" width="2.8" height="2.14"/><rect x="452.82" y="148.64" width="2.8" height="5.29"/><rect x="461.43" y="150.4" width="2.8" height="2.52"/><rect x="470.03" y="135.29" width="2.8" height="4.79"/><rect x="478.64" y="109.6" width="2.8" height="2.14"/><rect x="487.24" y="103.3" width="2.8" height="1.89"/><rect x="495.85" y="82.8" width="2.8" height="75.2"/><rect x="500.15" y="157.08" width="2.8" height="6.3"/><rect x="513.06" y="150.4" width="2.8" height="4.79"/><rect x="517.36" y="154.56" width="2.8" height="4.16"/><rect x="521.66" y="157.08" width="2.8" height="28.34"/><rect x="534.57" y="168.41" width="2.8" height="4.41"/><rect x="547.48" y="169.67" width="2.8" height="6.68"/><rect x="551.78" y="174.71" width="2.8" height="12.59"/><rect x="560.39" y="174.33" width="2.8" height="6.68"/><rect x="568.99" y="170.55" width="2.8" height="7.3"/><rect x="573.29" y="176.66" width="2.8" height="33.12"/><rect x="577.6" y="208.78" width="2.8" height="9.45"/><rect x="581.9" y="217.59" width="2.8" height="5.04"/><rect x="586.2" y="222" width="2.8" height="5.92"/><rect x="603.41" y="220.11" width="2.8" height="5.04"/><rect x="607.71" y="224.52" width="2.8" height="3.78"/><rect x="612.02" y="227.67" width="2.8" height="10.33"/><rect x="624.92" y="222.88" width="2.8" height="7.93"/><rect x="637.83" y="222.88" width="2.8" height="6.68"/><rect x="655.04" y="208.78" width="2.8" height="50.63"/><rect x="659.34" y="258.82" width="2.8" height="33.38"/><rect x="663.65" y="291.31" width="2.8" height="8.44"/><rect x="676.55" y="291.56" width="2.8" height="16.37"/><rect x="685.16" y="293.07" width="2.8" height="10.45"/><rect x="689.46" y="302.34" width="2.8" height="29.47"/><rect x="693.76" y="331.56" width="2.8" height="3.15"/><rect x="710.97" y="319.6" width="2.8" height="7.93"/><rect x="715.28" y="326.26" width="2.8" height="21.41"/><rect x="719.58" y="345.78" width="2.8" height="18.26"/><rect x="728.18" y="348.93" width="2.8" height="8.56"/><rect x="732.49" y="355.86" width="2.8" height="3.15"/><rect x="745.39" y="348.93" width="2.8" height="5.29"/><rect x="758.3" y="342" width="2.8" height="5.67"/><rect x="762.6" y="346.41" width="2.8" height="6.93"/><rect x="771.21" y="344.52" width="2.8" height="5.67"/><rect x="775.51" y="348.93" width="2.8" height="4.41"/><rect x="779.81" y="351.7" width="2.8" height="6.05"/><rect x="784.12" y="355.86" width="2.8" height="5.04"/><rect x="792.72" y="350.82" width="2.8" height="2.52"/><rect x="797.02" y="351.45" width="2.8" height="5.04"/><rect x="805.63" y="350.82" width="2.8" height="2.14"/><rect x="827.14" y="336.45" width="2.8" height="6.3"/><rect x="831.44" y="342.12" width="2.8" height="6.3"/><rect x="848.65" y="338.97" width="2.8" height="5.67"/><rect x="852.96" y="343" width="2.8" height="2.02"/><rect x="865.86" y="340.86" width="2.8" height="11.34"/><rect x="883.07" y="346.27" width="2.8" height="2.52"/><rect x="887.38" y="347.15" width="2.8" height="7.18"/><rect x="917.49" y="340.86" width="2.8" height="2.9"/><rect x="926.1" y="339.6" width="2.8" height="5.42"/><rect x="939.01" y="334.94" width="2.8" height="12.59"/><rect x="943.31" y="345.86" width="2.8" height="8.19"/><rect x="951.91" y="348.75" width="2.8" height="2.77"/><rect x="960.52" y="344.6" width="2.8" height="3.4"/><rect x="969.12" y="340.82" width="2.8" height="2.14"/><rect x="977.73" y="338.93" width="2.8" height="4.03"/></g>
<text x="1039.6" y="18.3" font-family="Liberation Sans, sans-serif" font-size="10" fill="#72767f" textLength="36.7" lengthAdjust="spacingAndGlyphs">18600.0</text>
<text x="1039.6" y="53.45" font-family="Liberation Sans, sans-serif" font-size="10" fill="#72767f" textLength="36.7" lengthAdjust="spacingAndGlyphs">18400.0</text>
<text x="1039.6" y="88.6" font-family="Liberation Sans, sans-serif" font-size="10" fill="#72767f" textLength="36.7" lengthAdjust="spacingAndGlyphs">18200.0</text>
<text x="1039.6" y="123.75" font-family="Liberation Sans, sans-serif" font-size="10" fill="#72767f" textLength="36.7" lengthAdjust="spacingAndGlyphs">18000.0</text>
<text x="1039.6" y="158.9" font-family="Liberation Sans, sans-serif" font-size="10" fill="#72767f" textLength="36.7" lengthAdjust="spacingAndGlyphs">17800.0</text>
<text x="1039.6" y="194.05" font-family="Liberation Sans, sans-serif" font-size="10" fill="#72767f" textLength="36.7" lengthAdjust="spacingAndGlyphs">17600.0</text>
<text x="1039.6" y="229.2" font-family="Liberation Sans, sans-serif" font-size="10" fill="#72767f" textLength="36.7" lengthAdjust="spacingAndGlyphs">17400.0</text>
<text x="1039.6" y="264.35" font-family="Liberation Sans, sans-serif" font-size="10" fill="#72767f" textLength="36.7" lengthAdjust="spacingAndGlyphs">17200.0</text>
<text x="1039.6" y="299.5" font-family="Liberation Sans, sans-serif" font-size="10" fill="#72767f" textLength="36.7" lengthAdjust="spacingAndGlyphs">17000.0</text>
<text x="1039.6" y="334.65" font-family="Liberation Sans, sans-serif" font-size="10" fill="#72767f" textLength="36.7" lengthAdjust="spacingAndGlyphs">16800.0</text>
<text x="1039.6" y="369.8" font-family="Liberation Sans, sans-serif" font-size="10" fill="#72767f" textLength="36.7" lengthAdjust="spacingAndGlyphs">16600.0</text>
<text x="1039.6" y="404.95" font-family="Liberation Sans, sans-serif" font-size="10" fill="#72767f" textLength="36.7" lengthAdjust="spacingAndGlyphs">16400.0</text>
<text x="1039.6" y="420.4" font-family="Liberation Sans, sans-serif" font-size="10" fill="#72767f" textLength="36.7" lengthAdjust="spacingAndGlyphs">200.00k</text>
<text x="1058" y="478.9" font-family="Liberation Sans, sans-serif" font-size="10" fill="#72767f" text-anchor="middle" textLength="25.2" lengthAdjust="spacingAndGlyphs">200.0</text>
<text x="1058" y="497.9" font-family="Liberation Sans, sans-serif" font-size="10" fill="#72767f" text-anchor="middle" textLength="14.2" lengthAdjust="spacingAndGlyphs">0.0</text>
<path d="M1030.6 15.2h4.5M1030.6 50.35h4.5M1030.6 85.5h4.5M1030.6 120.65h4.5M1030.6 155.8h4.5M1030.6 190.95h4.5M1030.6 226.1h4.5M1030.6 261.25h4.5M1030.6 296.4h4.5M1030.6 331.55h4.5M1030.6 366.7h4.5M1030.6 401.85h4.5M1030.6 417.2h4.5M1030.6 475.6h4.5M1030.6 494.7h4.5" stroke="#2a2b30" stroke-width="1" fill="none"/>
<rect x="1013.2" y="176.6" width="66.8" height="16.8" fill="#3a3e47"/>
<path d="M1017.3 185.1h8.2M1021.4 181v8.2" stroke="#e8e9ec" stroke-width="1.1" fill="none"/>
<text x="1039.3" y="189" font-family="Liberation Sans, sans-serif" font-size="10.5" fill="#ffffff" textLength="37.3" lengthAdjust="spacingAndGlyphs" font-weight="bold">17633.1</text>
<rect x="1030.2" y="333.7" width="49.8" height="17" fill="#d9484a"/>
<path d="M1030.6 342.3h4.6" stroke="#ffffff" stroke-width="1" fill="none"/>
<text x="1039.3" y="346.2" font-family="Liberation Sans, sans-serif" font-size="10.5" fill="#ffffff" textLength="37.3" lengthAdjust="spacingAndGlyphs">16741.1</text>
<rect x="1030.6" y="446.8" width="49.4" height="13.4" fill="#cb8312"/>
<text x="1058" y="457.2" font-family="Liberation Sans, sans-serif" font-size="10.5" fill="#ecd49a" text-anchor="middle" textLength="20.5" lengthAdjust="spacingAndGlyphs">2.3k</text>
<rect x="999.8" y="11.8" width="15.8" height="14.6" fill="none" stroke="#2a3046" stroke-width="1"/>
<path d="M1009.6 14.4h3.4v3.4M1005.8 23.8h-3.4v-3.4" stroke="#6e727b" stroke-width="1.1" fill="none"/>
<text x="455.7" y="52.4" font-family="Liberation Sans, sans-serif" font-size="10.5" fill="#c6c9ce" textLength="28" lengthAdjust="spacingAndGlyphs">18400</text>
<path d="M487.6 50h4.2" stroke="#c6c9ce" stroke-width="1" fill="none"/><path d="M491 47.7l3.200 2.300l-3.200 2.300z" fill="#c6c9ce"/>
<text x="670.6" y="383.2" font-family="Liberation Sans, sans-serif" font-size="10.5" fill="#c6c9ce" textLength="35.6" lengthAdjust="spacingAndGlyphs">16521.1</text>
<path d="M711.6 381.5h4" stroke="#c6c9ce" stroke-width="1" fill="none"/><path d="M714.7 379.200l3.200 2.300l-3.200 2.300z" fill="#c6c9ce"/>
<text x="-1.1" y="20" font-family="Liberation Sans, sans-serif" font-size="11" fill="#7f838c" textLength="78.6" lengthAdjust="spacingAndGlyphs">2022-12-15 08:00</text>
<text x="84" y="20" font-family="Liberation Sans, Noto Sans CJK TC, sans-serif" font-size="10.5" fill="#7f838c">開</text>
<text x="97" y="20" font-family="Liberation Sans, sans-serif" font-size="11" fill="#c84343" textLength="36" lengthAdjust="spacingAndGlyphs">17804.0</text>
<text x="139" y="20" font-family="Liberation Sans, Noto Sans CJK TC, sans-serif" font-size="10.5" fill="#7f838c">高</text>
<text x="152.500" y="20" font-family="Liberation Sans, sans-serif" font-size="11" fill="#c84343" textLength="36.5" lengthAdjust="spacingAndGlyphs">17849.5</text>
<text x="194.3" y="20" font-family="Liberation Sans, Noto Sans CJK TC, sans-serif" font-size="10.5" fill="#7f838c">低</text>
<text x="208.100" y="20" font-family="Liberation Sans, sans-serif" font-size="11" fill="#c84343" textLength="36" lengthAdjust="spacingAndGlyphs">17781.5</text>
<text x="250" y="20" font-family="Liberation Sans, Noto Sans CJK TC, sans-serif" font-size="10.5" fill="#7f838c">收</text>
<text x="263.300" y="20" font-family="Liberation Sans, sans-serif" font-size="11" fill="#c84343" textLength="36.5" lengthAdjust="spacingAndGlyphs">17788.7</text>
<text x="305.3" y="20" font-family="Liberation Sans, Noto Sans CJK TC, sans-serif" font-size="10.5" fill="#7f838c" textLength="21.2" lengthAdjust="spacingAndGlyphs">漲幅</text>
<text x="328.400" y="20" font-family="Liberation Sans, sans-serif" font-size="11" fill="#c84343" textLength="60.4" lengthAdjust="spacingAndGlyphs">-0.09%(-15.2)</text>
<text x="396.4" y="20" font-family="Liberation Sans, Noto Sans CJK TC, sans-serif" font-size="10.5" fill="#7f838c" textLength="21.2" lengthAdjust="spacingAndGlyphs">振幅</text>
<text x="420" y="20" font-family="Liberation Sans, sans-serif" font-size="11" fill="#c84343" textLength="27.5" lengthAdjust="spacingAndGlyphs">0.38%</text>
<circle cx="9.5" cy="32.5" r="6.3" fill="none" stroke="#6f727b" stroke-width="1"/>
<path d="M6.100 31l3.400 3.400l3.400-3.400" fill="none" stroke="#6f727b" stroke-width="1.1"/>
<path d="M21.2 34H32.4M23.2 34V30.4a3.6 3.6 0 0 1 7.2 0V34M25.5 35.2a1.3 1.3 0 0 0 2.6 0" fill="none" stroke="#6f727b" stroke-width="1.1"/>
<text x="34.3" y="35.4" font-family="Liberation Sans, sans-serif" font-size="11" fill="#7f838c" textLength="21.2" lengthAdjust="spacingAndGlyphs">EMA</text>
<path d="M58.2 26.6v11.4" stroke="#262e4a" stroke-width="1"/>
<path d="M67.2 32.2q5.6-7.2 11.2 0q-5.6 7.2-11.2 0z" fill="none" stroke="#6f727b" stroke-width="1"/><circle cx="72.8" cy="32.2" r="2" fill="none" stroke="#6f727b" stroke-width="1"/><path d="M69.4 27.8L77.6 36.1" stroke="#6f727b" stroke-width="1.2"/>
<path d="M21.2 49.8H32.4M23.2 49.8V46.2a3.6 3.6 0 0 1 7.2 0V49.8M25.5 51a1.3 1.3 0 0 0 2.6 0" fill="none" stroke="#6f727b" stroke-width="1.1"/>
<text x="34.3" y="51.2" font-family="Liberation Sans, sans-serif" font-size="11" fill="#7f838c" textLength="50.2" lengthAdjust="spacingAndGlyphs">BOLL(20,2)</text>
<path d="M87.5 42v11.8" stroke="#262e4a" stroke-width="1"/>
<path d="M96.7 47.6q5.6-7.2 11.2 0q-5.6 7.2-11.2 0z" fill="none" stroke="#6f727b" stroke-width="1"/><circle cx="102.3" cy="47.6" r="2" fill="none" stroke="#6f727b" stroke-width="1"/><path d="M98.9 43.2L107.1 51.5" stroke="#6f727b" stroke-width="1.2"/>
<text x="8.2" y="419.1" font-family="Liberation Sans, sans-serif" font-size="10.5" fill="#7f838c" textLength="39.9" lengthAdjust="spacingAndGlyphs">VOLUME</text>
<path d="M56.7 414.4h6l-3 3.5z" fill="#a9acb3"/>
<text x="71.2" y="419.1" font-family="Liberation Sans, sans-serif" font-size="10.5" fill="#7f838c" textLength="99.4" lengthAdjust="spacingAndGlyphs">VOLUME:11,257.9160</text>
<path d="M7.6 470H18.8M9.6 470V466.4a3.6 3.6 0 0 1 7.2 0V470M11.9 471.2a1.3 1.3 0 0 0 2.6 0" fill="none" stroke="#6f727b" stroke-width="1.1"/>
<text x="20.7" y="471.8" font-family="Liberation Sans, sans-serif" font-size="10.5" fill="#7f838c" textLength="68.5" lengthAdjust="spacingAndGlyphs">MACD(12,26,9)</text>
<path d="M97.6 467.2h6l-3 3.5z" fill="#a9acb3"/>
<text x="112" y="471.8" font-family="Liberation Sans, sans-serif" font-size="10.5" fill="#cfd0d4" textLength="37.5" lengthAdjust="spacingAndGlyphs" stroke="#cfd0d4" stroke-width="0.35">DIF:41.8</text>
<text x="155.500" y="471.8" font-family="Liberation Sans, sans-serif" font-size="10.5" fill="#d6c62a" textLength="40.5" lengthAdjust="spacingAndGlyphs" stroke="#d6c62a" stroke-width="0.3">DEA:81.8</text>
<text x="202" y="471.8" font-family="Liberation Sans, sans-serif" font-size="10.5" fill="#c84343" textLength="54.2" lengthAdjust="spacingAndGlyphs">MACD:-79.9</text>
<g opacity="0.95">
<ellipse cx="822.2" cy="451.3" rx="14.6" ry="12.3" fill="#ebebeb"/><path d="M812 459.500l-1 8.300l7-5z" fill="#ebebeb"/>
<g stroke="#0d0e10" stroke-width="1.5"><path d="M836.600 450.900c-7.100 0-12.900 5.200-12.900 11.500s5.800 11.500 12.900 11.500c1.600 0 3.100-0.300 4.500-0.700l5.600 3l-1.500-5c2.600-2.100 4.200-5.300 4.200-8.800c0-6.300-5.800-11.500-12.800-11.500z" fill="#ebebeb"/></g>
<circle cx="816.5" cy="448" r="1.9" fill="#0d0e10"/><circle cx="828.5" cy="448" r="1.9" fill="#0d0e10"/>
<circle cx="831.9" cy="458.6" r="1.6" fill="#0d0e10"/><circle cx="841.2" cy="458.6" r="1.6" fill="#0d0e10"/>
<text x="856" y="469.5" font-family="Liberation Sans, Noto Sans CJK SC, sans-serif" font-size="26.5" fill="#000" opacity="0.5" transform="translate(0.8,1)" textLength="188" lengthAdjust="spacingAndGlyphs">利弗莫尔研究所</text>
<text x="856" y="469.5" font-family="Liberation Sans, Noto Sans CJK SC, sans-serif" font-size="26.5" fill="#f6f6f6" stroke="#f6f6f6" stroke-width="0.55" textLength="188" lengthAdjust="spacingAndGlyphs">利弗莫尔研究所</text>
</g>
</svg>
</body></html>
